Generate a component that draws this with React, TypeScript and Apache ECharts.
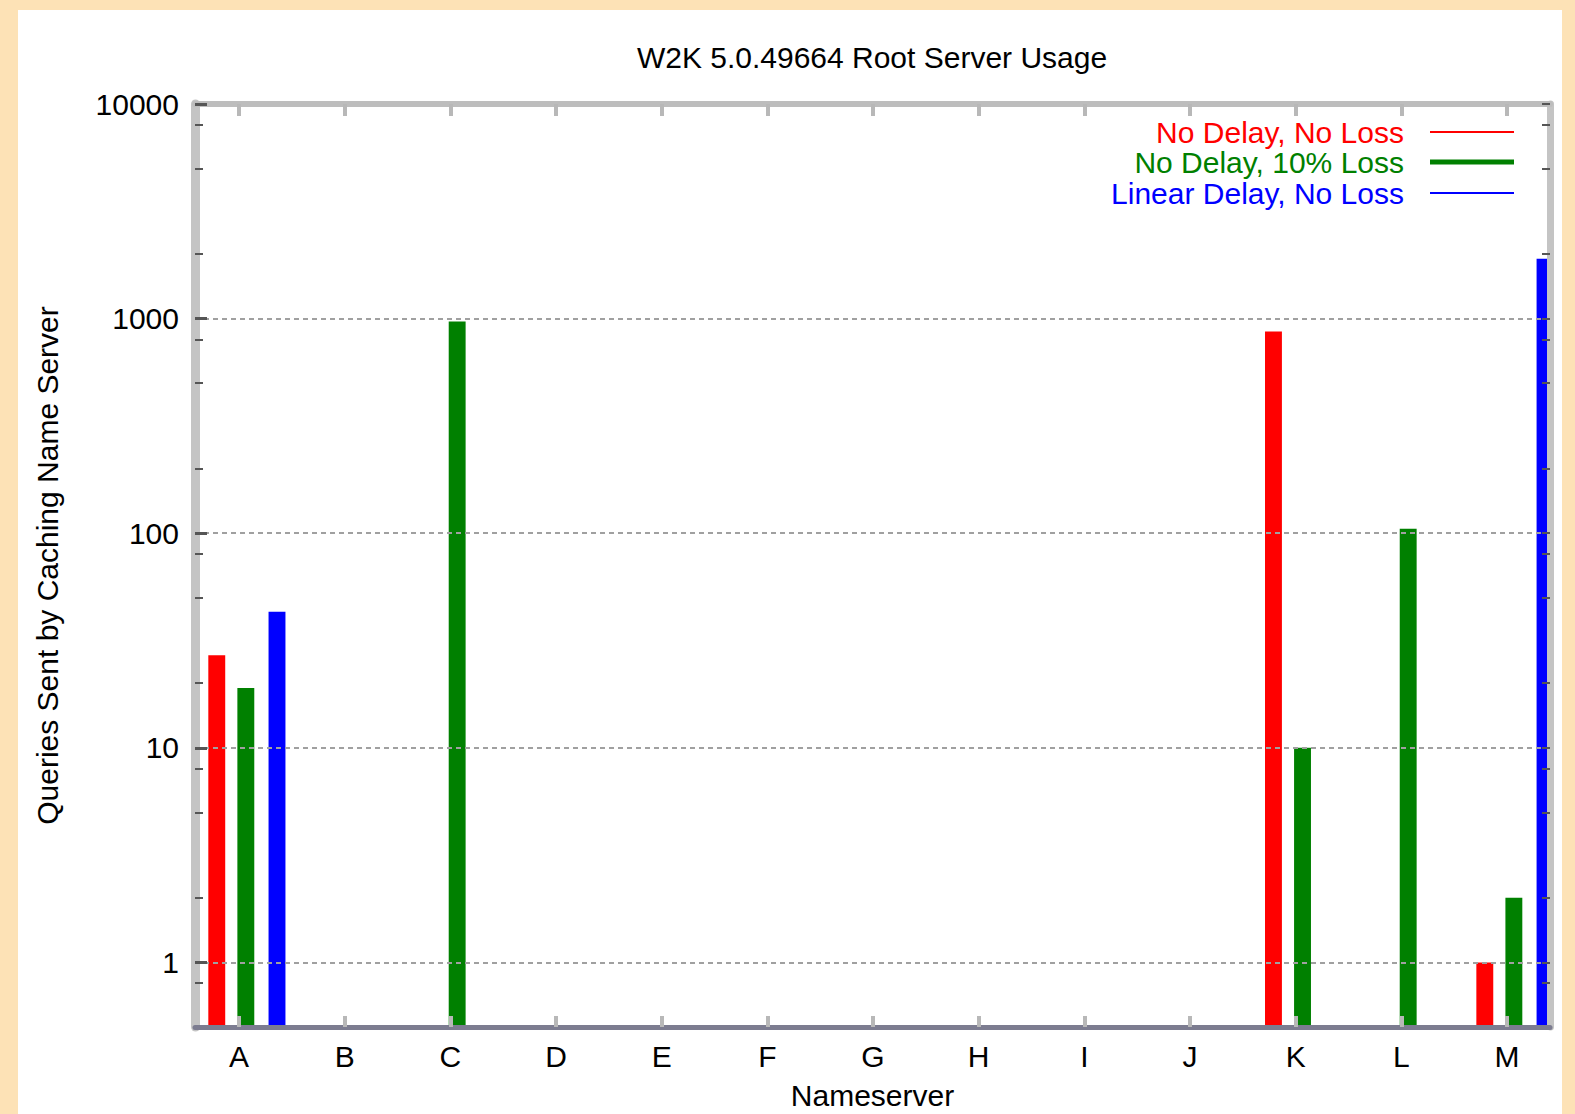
import React, { useEffect, useRef } from 'react';
import * as echarts from 'echarts';

// ---- data ----
const categories = ['A', 'B', 'C', 'D', 'E', 'F', 'G', 'H', 'I', 'J', 'K', 'L', 'M'];
const seriesNames = ['No Delay, No Loss', 'No Delay, 10% Loss', 'Linear Delay, No Loss'];
const noDelayNoLoss: (number | null)[] = [27, null, null, null, null, null, null, null, null, null, 870, null, 1];
const noDelay10Loss: (number | null)[] = [19, null, 970, null, null, null, null, null, null, null, 10, 105, 2];
const linearDelayNoLoss: (number | null)[] = [43, null, null, null, null, null, null, null, null, null, null, null, 1900];
const yLabelValues = [1, 10, 100, 1000, 10000];
const yMinorTickValues = [0.8, 2, 5, 8, 20, 50, 80, 200, 500, 800, 2000, 5000, 8000];

// ---- style / layout ----
const FONT = "'Liberation Sans', Arial, sans-serif";
const PEACH = '#fde2b6';
const COLORS = ['#ff0000', '#008000', '#0000ff'];
const OFFSETS = [-0.21, 0.065, 0.36];
const BAR_W = 0.16;
const Y_MIN = 0.5;
const Y_MAX = 10000;
const X_MIN = -0.416;
const X_MAX = 12.407;
const LEGEND_ICON_H = [2, 5, 2];
const LEGEND_TOPS = [117, 147, 178];

const seriesValues = [noDelayNoLoss, noDelay10Loss, linearDelayNoLoss];
const catIdx = categories.map((_, i) => i);

function makeRender(color: string) {
  return (params: any, api: any) => {
    const x = api.value(0);
    const y = api.value(1);
    const top = api.coord([x, y]);
    const base = api.coord([x, Y_MIN]);
    const l = api.coord([x - BAR_W / 2, y])[0];
    const r = api.coord([x + BAR_W / 2, y])[0];
    const cs = params.coordSys;
    const rect = echarts.graphic.clipRectByRect(
      { x: l, y: top[1], width: r - l, height: base[1] - top[1] },
      { x: cs.x, y: cs.y, width: cs.width, height: cs.height }
    );
    if (!rect) return null;
    return { type: 'rect', shape: rect, style: { fill: color } };
  };
}

const logAxisBase = {
  type: 'log',
  logBase: 10,
  min: Y_MIN,
  max: Y_MAX,
};

export default function App() {
  const ref = useRef<HTMLDivElement>(null);
  useEffect(() => {
    const chart = echarts.init(ref.current!, null, { renderer: 'svg' });
    const option: any = {
      animation: false,
      textStyle: { fontFamily: FONT },
      title: {
        text: 'W2K 5.0.49664 Root Server Usage',
        left: 872,
        top: 42,
        textAlign: 'center',
        padding: 0,
        textStyle: { fontSize: 30, fontWeight: 'normal', color: '#000', fontFamily: FONT },
      },
      legend: seriesNames.map((name, i) => ({
        data: [{ name, icon: 'rect', itemStyle: { color: COLORS[i] }, textStyle: { color: COLORS[i] } }],
        right: 61,
        top: LEGEND_TOPS[i],
        align: 'right',
        orient: 'vertical',
        padding: 0,
        itemWidth: 84,
        itemHeight: LEGEND_ICON_H[i],
        selectedMode: false,
        textStyle: { fontSize: 30, fontFamily: FONT, padding: [0, 21, 0, 0] },
      })),
      grid: { left: 195, right: 25, top: 104, bottom: 87, containLabel: false, outerBoundsMode: 'none' },
      xAxis: [
        {
          type: 'value',
          position: 'bottom',
          min: X_MIN,
          max: X_MAX,
          z: 3,
          name: 'Nameserver',
          nameLocation: 'middle',
          nameGap: 53,
          nameTextStyle: { fontSize: 30, color: '#000', fontFamily: FONT },
          axisLine: { show: true, onZero: false, lineStyle: { color: '#7c7c90', width: 5 } },
          axisTick: { show: true, inside: true, length: 11, customValues: catIdx, lineStyle: { color: '#b8b8b8', width: 4 } },
          axisLabel: {
            customValues: catIdx,
            formatter: (v: number) => categories[Math.round(v)] ?? '',
            fontSize: 30,
            color: '#000',
            margin: 14,
            fontFamily: FONT,
          },
          splitLine: { show: false },
        },
        {
          type: 'value',
          position: 'top',
          min: X_MIN,
          max: X_MAX,
          z: 3,
          axisLine: { show: true, onZero: false, lineStyle: { color: '#bdbdbd', width: 6 } },
          axisTick: { show: true, inside: true, length: 12, customValues: catIdx, lineStyle: { color: '#b8b8b8', width: 4 } },
          axisLabel: { show: false },
          splitLine: { show: false },
        },
      ],
      yAxis: [
        {
          ...logAxisBase,
          position: 'left',
          z: 3,
          name: 'Queries Sent by Caching Name Server',
          nameLocation: 'middle',
          nameGap: 133,
          nameTextStyle: { fontSize: 30, color: '#000', fontFamily: FONT },
          axisLine: { show: true, onZero: false, lineStyle: { color: '#c4c4c4', width: 9 } },
          axisTick: { show: true, inside: true, length: 12, customValues: yLabelValues, lineStyle: { color: '#555', width: 3 } },
          axisLabel: {
            customValues: yLabelValues,
            formatter: (v: number) => String(Math.round(v)),
            fontSize: 30,
            color: '#000',
            margin: 16,
            fontFamily: FONT,
          },
          splitLine: { show: true, lineStyle: { color: '#a0a0a0', width: 2, type: [5, 4] } },
        },
        {
          ...logAxisBase,
          position: 'right',
          z: 3,
          axisLine: { show: true, onZero: false, lineStyle: { color: '#c4c4c4', width: 7 } },
          axisTick: { show: true, inside: true, length: 8, customValues: [...yLabelValues, ...yMinorTickValues], lineStyle: { color: '#555', width: 2 } },
          axisLabel: { show: false },
          splitLine: { show: false },
        },
        {
          ...logAxisBase,
          position: 'left',
          z: 3,
          axisLine: { show: false, onZero: false },
          axisTick: { show: true, inside: true, length: 8, customValues: yMinorTickValues, lineStyle: { color: '#555', width: 2 } },
          axisLabel: { show: false },
          splitLine: { show: false },
        },
      ],
      series: seriesNames.map((name, s) => ({
        name,
        type: 'custom',
        xAxisIndex: 0,
        yAxisIndex: 0,
        color: COLORS[s],
        itemStyle: { color: COLORS[s] },
        encode: { x: 0, y: 1 },
        renderItem: makeRender(COLORS[s]),
        data: seriesValues[s]
          .map((v, i) => [i + OFFSETS[s], v])
          .filter((d) => d[1] != null),
      })),
    };
    chart.setOption(option);
    return () => chart.dispose();
  }, []);
  return (
    <div style={{ position: 'fixed', left: 0, top: 0, width: 1575, height: 1114, background: PEACH, overflow: 'hidden' }}>
      <div style={{ position: 'absolute', left: 18, top: 10, width: 1544, height: 1104, background: '#fff' }} />
      <div ref={ref} style={{ position: 'absolute', left: 0, top: 0, width: 1575, height: 1114 }} />
    </div>
  );
}
